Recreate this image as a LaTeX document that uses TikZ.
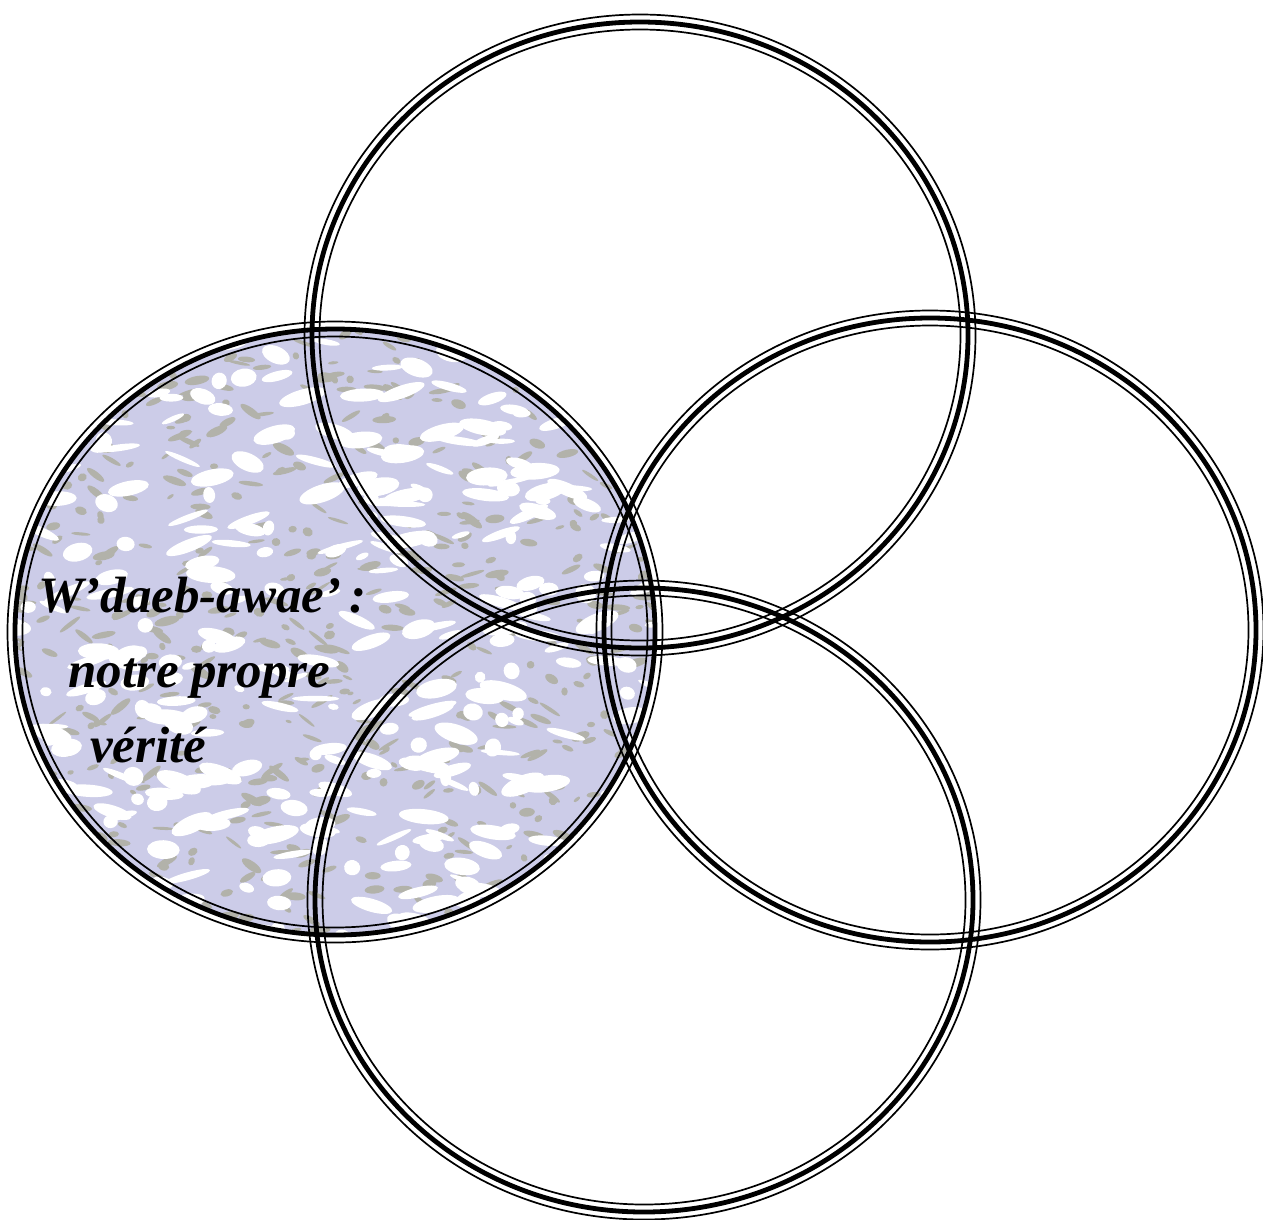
\documentclass[tikz,border=0pt]{standalone}
\usepackage{fontspec}
\setmainfont{Liberation Serif}
\definecolor{lav}{RGB}{204,204,232}
\definecolor{vein}{RGB}{178,178,170}
\tikzset{
  thinring/.style={draw=black, line width=1.7pt},
  thickring/.style={draw=black, line width=4.8pt},
  label/.style={font=\fontsize{51}{60}\selectfont\bfseries\itshape, inner sep=0pt, anchor=base west}
}
\newcommand\myring[3]{%
  \draw[thinring] (#1) ellipse ({#2+7.5pt} and {#3+7.5pt});
  \draw[thickring] (#1) ellipse (#2 and #3);
  \draw[thinring] (#1) ellipse ({#2-7.5pt} and {#3-7.5pt});
}
\begin{document}
\begin{tikzpicture}[x=1pt,y=-1pt]
\useasboundingbox (0,0) rectangle (1263,1219);
\coordinate (T) at (640,335);
\coordinate (R) at (930,630);
\coordinate (B) at (644,900);
\coordinate (L) at (335,632);
% shaded left circle
\fill[lav] (L) ellipse (320pt and 303pt);
\begin{scope}
  \clip (L) ellipse (320pt and 303pt);
  \pgfmathsetseed{11}
  \foreach \i in {1,...,650}{
    \pgfmathsetmacro\px{335+330*rand}
    \pgfmathsetmacro\py{632+315*rand}
    \pgfmathsetmacro\w{3+10*rnd}
    \pgfmathsetmacro\h{1.5+3*rnd}
    \pgfmathsetmacro\ang{-40+80*rnd}
    \fill[vein, rotate around={\ang:(\px,\py)}] (\px,\py) ellipse (\w pt and \h pt);
  }
  \foreach \i in {1,...,380}{
    \pgfmathsetmacro\px{335+330*rand}
    \pgfmathsetmacro\py{632+315*rand}
    \pgfmathsetmacro\w{5+20*rnd}
    \pgfmathsetmacro\h{2.5+7*rnd}
    \pgfmathsetmacro\ang{-25+50*rnd}
    \fill[white, rotate around={\ang:(\px,\py)}] (\px,\py) ellipse (\w pt and \h pt);
  }
\end{scope}
% rings
\myring{T}{328pt}{313pt}
\myring{R}{326pt}{312pt}
\myring{B}{329pt}{312pt}
\myring{L}{320pt}{303pt}
% text
\node[label] (t1) at (38,612) {W’daeb-awae’\,:};
\node[label] (t2) at (68,687) {notre propre};
\node[label] (t3) at (90,762) {vérité};
\end{tikzpicture}
\end{document}
